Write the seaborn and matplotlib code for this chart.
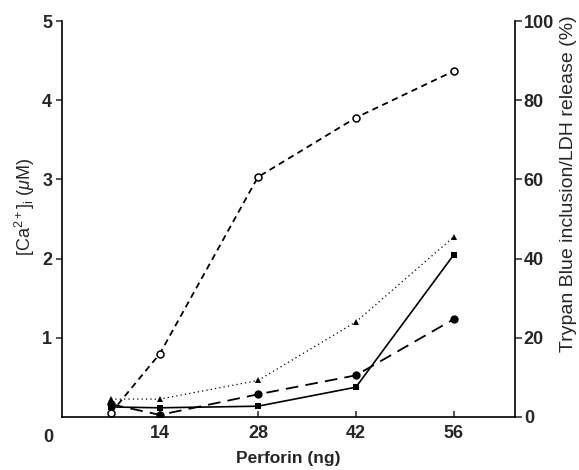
import seaborn as sns
import matplotlib.pyplot as plt
import pandas as pd

perforin = [7, 14, 28, 42, 56]
ca_conc = [0.05, 0.80, 3.03, 3.78, 4.37]          # open circles, left axis (uM)
trypan_tri = [4.5, 4.5, 9.2, 24.0, 45.5]          # triangles, right axis (%)
ldh_square = [2.5, 2.3, 2.7, 7.5, 41.0]           # squares, right axis (%)
ldh_circle = [3.2, 0.5, 5.7, 10.5, 24.7]          # filled circles, right axis (%)

sns.set_style('ticks')
plt.rcParams['font.family'] = ['Liberation Sans', 'DejaVu Sans']
plt.rcParams['mathtext.fontset'] = 'custom'
plt.rcParams['mathtext.rm'] = 'Liberation Sans'
plt.rcParams['mathtext.it'] = 'Liberation Sans:italic'
plt.rcParams['mathtext.bf'] = 'Liberation Sans:bold'

fig = plt.figure(figsize=(5.79, 4.70), dpi=100)
ax = fig.add_axes([0.107, 0.113, 0.782, 0.842])
ax2 = ax.twinx()

df = pd.DataFrame({'x': perforin, 'ca': ca_conc, 'tri': trypan_tri,
                   'sq': ldh_square, 'ci': ldh_circle})

sns.lineplot(data=df, x='x', y='ca', ax=ax, color='black', lw=1.3,
             linestyle=(0, (3.5, 2.5)), marker='o', markersize=5,
             mfc='white', mec='black', mew=1.1)
sns.lineplot(data=df, x='x', y='tri', ax=ax2, color='black', lw=0.9,
             linestyle=(0, (1, 2.5)), marker='^', markersize=5, mew=0)
sns.lineplot(data=df, x='x', y='sq', ax=ax2, color='black', lw=1.2,
             linestyle='-', marker='s', markersize=5, mew=0)
sns.lineplot(data=df, x='x', y='ci', ax=ax2, color='black', lw=1.3,
             linestyle=(0, (7, 4)), marker='o', markersize=6, mew=0)

ax.set_xlim(0, 64.7)
ax.set_ylim(0, 5)
ax2.set_ylim(0, 100)

for a in (ax, ax2):
    a.spines['top'].set_visible(False)
    for s in a.spines.values():
        s.set_linewidth(1.2)
        s.set_color('black')
ax.spines['right'].set_visible(False)
ax2.spines['left'].set_visible(False)
ax2.spines['bottom'].set_visible(False)

ax.set_xticks([14, 28, 42, 56])
ax.set_yticks([1, 2, 3, 4, 5])
ax2.set_yticks([0, 20, 40, 60, 80, 100])

ax.tick_params(axis='x', direction='in', length=4, width=1.1, pad=6,
               labelsize=13)
ax.tick_params(axis='y', direction='out', length=4, width=1.1, pad=3,
               labelsize=13)
ax2.tick_params(axis='y', direction='out', length=5, width=1.1, pad=1.5,
                labelsize=13)
for lab in ax.get_xticklabels() + ax.get_yticklabels() + ax2.get_yticklabels():
    lab.set_fontweight('bold')

ax.text(-0.031, -0.053, '0', transform=ax.transAxes, ha='center',
        va='center', fontsize=13, fontweight='bold')

ax.set_xlabel('Perforin (ng)', fontsize=12.5, fontweight='bold', labelpad=6)
ax.set_ylabel(r'[Ca$^{2+}$]$_{\rm i}$ ($\mu$M)', fontsize=13)
ax.yaxis.set_label_coords(-0.055, 0.53)
ax2.set_ylabel('Trypan Blue inclusion/LDH release (%)', fontsize=14,
               rotation=90)
ax2.yaxis.set_label_coords(1.1, 0.59)

fig.savefig('out.png', dpi=100)
